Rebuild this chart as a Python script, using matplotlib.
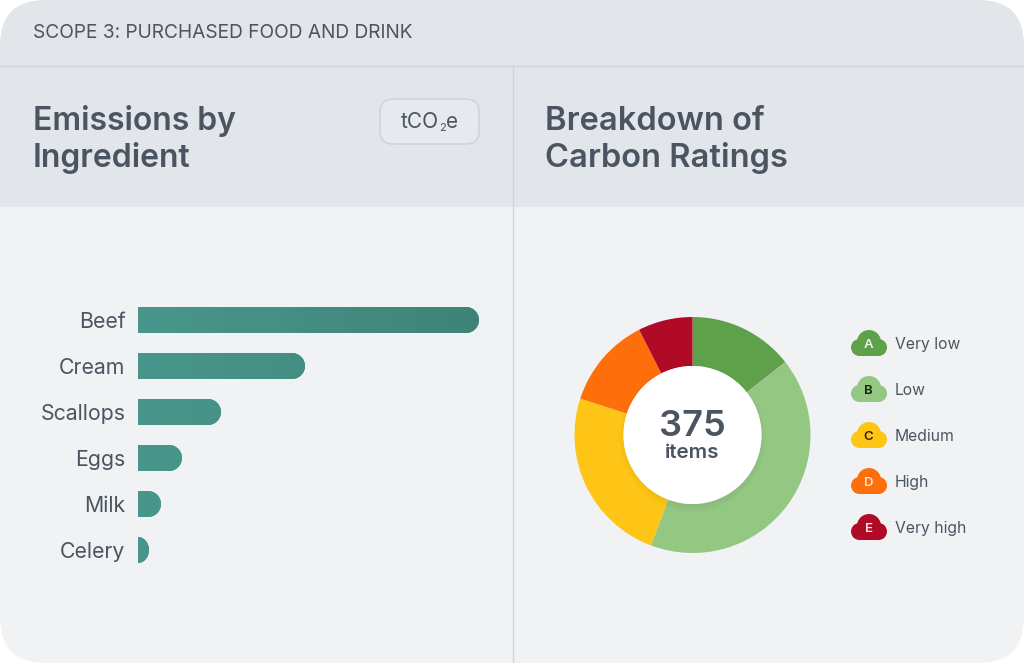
import numpy as np
import matplotlib
matplotlib.use("Agg")
import matplotlib.pyplot as plt
from matplotlib.patches import Circle, FancyBboxPatch, Rectangle
from matplotlib.path import Path
from matplotlib.colors import LinearSegmentedColormap

ingredients = ["Beef", "Cream", "Scallops", "Eggs", "Milk", "Celery"]
emissions = [341, 167, 83, 44, 23, 11]

ratings = ["A", "B", "C", "D", "E"]
rating_names = ["Very low", "Low", "Medium", "High", "Very high"]
rating_counts = [54, 155, 91, 47, 28]
rating_colors = ["#5fa04a", "#93c782", "#fec516", "#fe6f0c", "#b10a26"]
letter_colors = ["#e9f2e4", "#16260f", "#2b2200", "#ffe3cc", "#f9e4e7"]

TEXT = "#4b5561"
HEADER = "#e2e6eb"
BODY = "#f0f2f4"
LINE = "#cfd5dd"
FONT = "Inter"

plt.rcParams["font.family"] = FONT


def rounded_bar(width, y, height, radius=13):
    # bar outline with a rounded right end, used to clip the plain barh rectangle
    rx = min(radius, width)
    top, bot = y - height / 2, y + height / 2
    k = 0.5523
    verts = [(0, top), (width - rx, top),
             (width - rx + k * rx, top), (width, y - height / 2 + (1 - k) * height / 2), (width, y),
             (width, y + height / 2 - (1 - k) * height / 2), (width - rx + k * rx, bot), (width - rx, bot),
             (0, bot), (0, top)]
    codes = [Path.MOVETO, Path.LINETO, Path.CURVE4, Path.CURVE4, Path.CURVE4,
             Path.CURVE4, Path.CURVE4, Path.CURVE4, Path.LINETO, Path.CLOSEPOLY]
    return Path(verts, codes)


fig = plt.figure(figsize=(10.24, 6.63), dpi=100, facecolor="white")

# background panels, in pixel coordinates
bg = fig.add_axes([0, 0, 1, 1])
bg.set_xlim(0, 1024)
bg.set_ylim(663, 0)
bg.axis("off")

card = FancyBboxPatch((0, 0), 1024, 663, boxstyle="round,pad=0,rounding_size=46",
                      facecolor=BODY, edgecolor="none")
bg.add_patch(card)
header = Rectangle((0, 0), 1024, 207, facecolor=HEADER, edgecolor="none")
bg.add_patch(header)
header.set_clip_path(card)
bg.plot([0, 1024], [65.5, 65.5], color=LINE, lw=1.0)
bg.plot([513, 513], [65, 663], color=LINE, lw=1.0)

bg.text(33, 33, "SCOPE 3: PURCHASED FOOD AND DRINK", fontsize=13.8, color=TEXT, va="center")
bg.text(33, 121, "Emissions by", fontsize=23, fontweight="semibold", color=TEXT, va="center")
bg.text(33, 158.5, "Ingredient", fontsize=23, fontweight="semibold", color=TEXT, va="center")
bg.text(545, 121, "Breakdown of", fontsize=23.5, fontweight="semibold", color=TEXT, va="center")
bg.text(545, 158.5, "Carbon Ratings", fontsize=23.5, fontweight="semibold", color=TEXT, va="center")

# unit pill
bg.add_patch(FancyBboxPatch((380, 99), 99, 45, boxstyle="round,pad=0,rounding_size=13",
                            facecolor="#e6e9ee", edgecolor=LINE, lw=1.2))
bg.text(439, 122, "tCO", fontsize=15, color=TEXT, ha="right", va="center")
bg.text(439, 128, "2", fontsize=8, color=TEXT, ha="left", va="center")
bg.text(446, 122, "e", fontsize=15, color=TEXT, ha="left", va="center")

# bars
ax = fig.add_axes([138 / 1024, 1 - 573 / 663, 342 / 1024, 276 / 663])
ax.patch.set_alpha(0)
ypos = np.arange(len(ingredients))
bars = ax.barh(ypos, emissions, height=26 / 46, color="#45917f", linewidth=0)
ax.set_xlim(0, 342)
ax.set_ylim(5.5, -0.5)
ax.set_yticks(ypos, ingredients)
ax.set_xticks([])
ax.tick_params(axis="y", length=0, pad=9, labelsize=15.3, labelcolor=TEXT)
for s in ax.spines.values():
    s.set_visible(False)

cmap = LinearSegmentedColormap.from_list("teal", ["#49978c", "#3f8378"])
for y, val, bar in zip(ypos, emissions, bars):
    clip = rounded_bar(val, y, 26 / 46)
    bar.set_clip_path(clip, ax.transData)
    im = ax.imshow(np.linspace(0, val / 342, 64).reshape(1, -1), cmap=cmap, vmin=0, vmax=1,
                   extent=(0, val, y + 13 / 46, y - 13 / 46), aspect="auto", zorder=3)
    im.set_clip_path(clip, ax.transData)
ax.set_xlim(0, 342)
ax.set_ylim(5.5, -0.5)

# donut
dax = fig.add_axes([572.5 / 1024, 1 - 555 / 663, 240 / 1024, 240 / 663])
dax.pie(rating_counts, colors=rating_colors, startangle=90, counterclock=False,
        radius=1, wedgeprops=dict(width=49 / 118, linewidth=0))
dax.set_xlim(-120 / 118, 120 / 118)
dax.set_ylim(-120 / 118, 120 / 118)
for r, a in [(1.06, 0.012), (1.03, 0.015), (0.99, 0.02)]:
    dax.add_patch(Circle((0, -0.03), r * 69 / 118, facecolor="#000000", alpha=a, edgecolor="none"))
dax.add_patch(Circle((0, 0), 69 / 118, facecolor="white", edgecolor="none"))
dax.text(0, 0.07, "375", fontsize=26, fontweight="semibold", color=TEXT, ha="center", va="center")
dax.text(0, -0.15, "items", fontsize=14.8, fontweight="semibold", color=TEXT, ha="center", va="center")

# legend clouds
for i, (letter, name) in enumerate(zip(ratings, rating_names)):
    cy = 344 + i * 46
    col = rating_colors[i]
    bg.add_patch(Circle((869, cy - 2), 12, facecolor=col, edgecolor="none"))
    bg.add_patch(Circle((859.5, cy + 3.5), 8.5, facecolor=col, edgecolor="none"))
    bg.add_patch(Circle((878.5, cy + 3.5), 8.5, facecolor=col, edgecolor="none"))
    bg.add_patch(Rectangle((859, cy), 20, 12, facecolor=col, edgecolor="none"))
    bg.text(868.5, cy + 0.5, letter, fontsize=9.5, fontweight="semibold", color=letter_colors[i], ha="center", va="center")
    bg.text(895, cy + 0.5, name, fontsize=11.3, color=TEXT, va="center")

fig.savefig("out.png", dpi=100, facecolor="white")
